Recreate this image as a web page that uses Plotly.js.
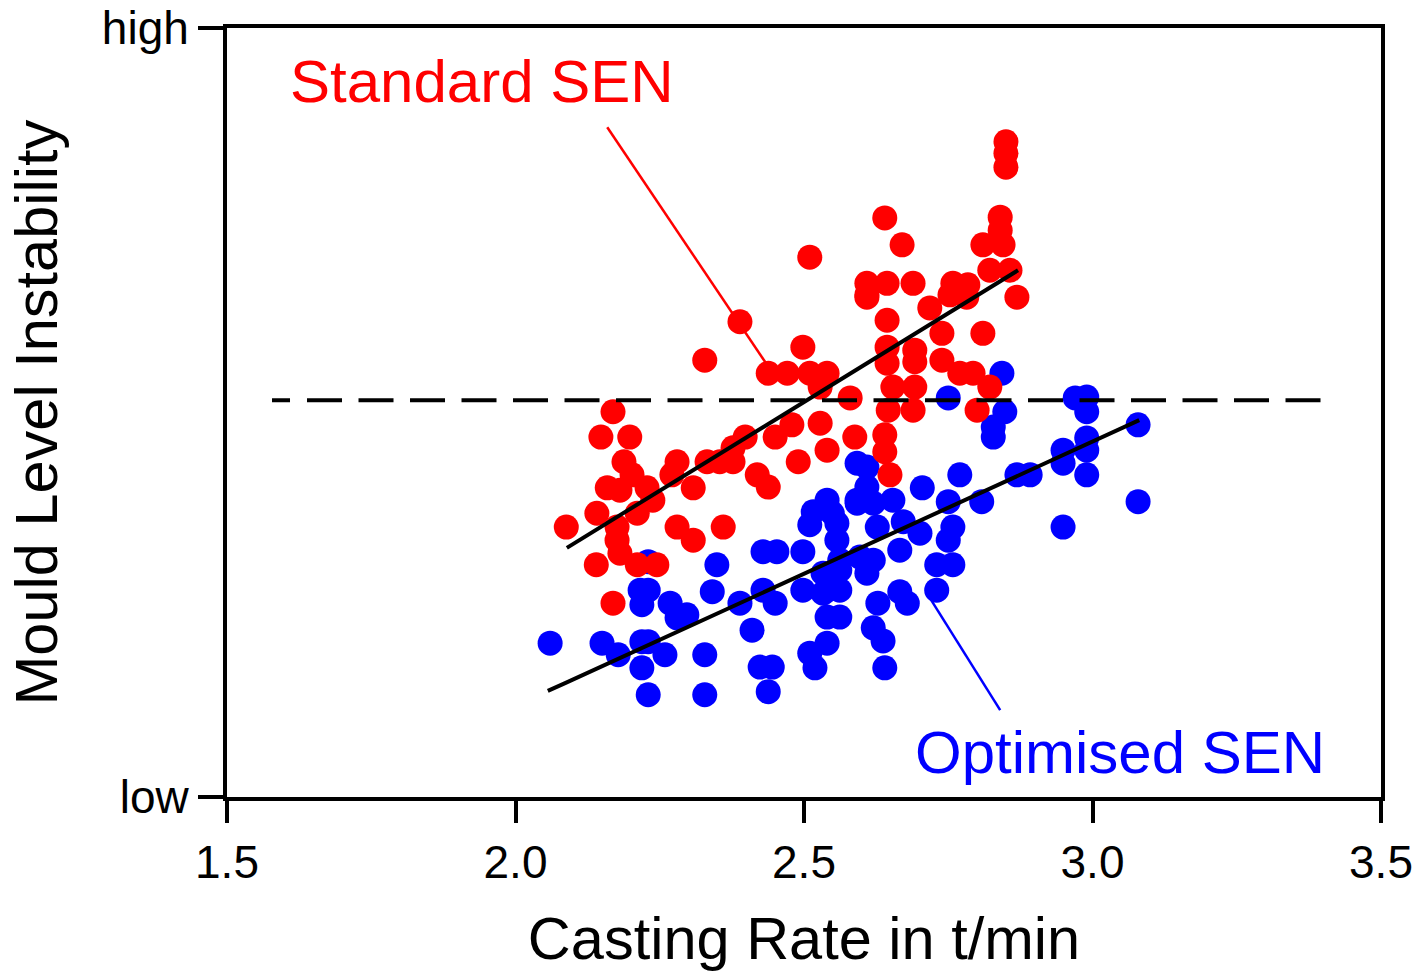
<!DOCTYPE html>
<html>
<head>
<meta charset="utf-8">
<script src="https://cdn.plot.ly/plotly-3.0.1.min.js"></script>
<style>
html,body{margin:0;padding:0;background:#fff;}
#chart{width:1427px;height:972px;}
</style>
</head>
<body>
<div id="chart"></div>
<script>
// Casting rate (t/min) and mould level instability (0 = low, 10 = high)
const standardX = [2.088,2.140,2.169,2.148,2.198,2.188,2.202,2.159,2.181,2.228,2.238,2.211,2.141,2.176,2.176,2.181,2.211,2.245,2.169,
  2.280,2.271,2.308,2.280,2.308,2.360,2.332,2.354,2.377,2.398,2.389,2.328,2.498,2.438,2.471,2.510,2.540,2.528,2.580,2.479,2.528,
  2.450,2.588,2.540,2.490,2.377,2.419,2.438,2.609,2.644,2.644,2.644,2.654,2.646,2.640,2.640,2.649,2.850,2.850,2.850,2.640,2.670,
  2.840,2.840,2.810,2.845,2.822,2.857,2.869,2.609,2.644,2.689,2.609,2.758,2.784,2.753,2.782,2.718,2.739,2.810,2.692,2.692,2.739,
  2.770,2.793,2.822,2.692,2.689,2.800,2.510];
const standardY = [3.51,3.02,5.01,4.68,4.68,4.36,4.19,4.02,3.99,4.02,3.86,3.69,3.69,3.51,3.34,3.17,3.02,3.02,2.52,
  4.36,4.19,4.02,3.51,3.34,3.51,4.36,4.36,4.36,4.68,6.18,5.68,5.85,5.51,5.51,5.51,5.51,5.33,5.19,4.84,4.86,
  4.68,4.68,4.51,4.36,4.54,4.19,4.03,6.50,6.20,5.85,5.64,5.33,5.03,4.71,4.49,4.19,8.52,8.37,8.19,7.53,7.18,
  7.54,7.37,7.18,7.18,6.85,6.85,6.50,6.68,6.68,6.68,6.53,6.68,6.66,6.53,6.50,6.36,6.03,6.03,5.81,5.66,5.68,
  5.51,5.51,5.33,5.33,5.03,5.03,7.02];

const optimisedX = [2.060,2.150,2.178,2.219,2.230,2.219,2.259,2.230,2.328,2.328,2.216,2.230,2.219,2.268,2.297,2.280,2.349,2.341,2.230,
  2.429,2.453,2.498,2.429,2.389,2.450,2.410,2.424,2.445,2.438,2.498,2.540,2.516,2.510,2.549,2.557,2.592,2.609,2.609,2.592,2.620,
  2.654,2.627,2.672,2.666,2.609,2.562,2.540,2.562,2.540,2.562,2.628,2.620,2.637,2.640,2.666,2.679,2.540,2.510,2.519,2.705,
  2.843,2.750,2.990,2.970,2.848,2.828,2.828,2.990,2.990,2.990,2.949,2.949,2.990,3.079,3.079,2.949,2.869,2.892,2.770,2.750,2.808,
  2.758,2.750,2.701,2.730,2.758,2.730,2.557,2.592,2.597,2.620,2.533,2.533,2.562];
const optimisedY = [2.00,2.00,1.85,2.02,2.02,1.68,1.85,1.33,1.85,1.33,2.69,2.69,2.50,2.52,2.37,2.33,3.02,2.67,3.06,
  3.19,3.19,3.19,2.69,2.52,2.52,2.17,1.69,1.69,1.37,2.69,3.86,3.71,3.54,3.69,3.34,4.34,4.29,4.03,3.82,3.82,
  3.86,3.51,3.58,3.21,2.91,2.95,2.69,2.69,2.34,2.34,2.52,2.20,2.03,1.68,2.67,2.52,2.00,1.87,1.68,4.02,
  5.51,5.19,5.20,5.19,5.01,4.81,4.68,5.01,4.67,4.51,4.51,4.34,4.19,4.84,3.84,3.51,4.19,4.19,4.19,3.84,3.84,
  3.51,3.34,3.43,3.02,3.02,2.69,3.56,3.86,3.12,3.08,2.65,2.91,3.08];

// Trend lines
const standardFitX = [2.089, 2.871];
const standardFitY = [3.24, 6.85];
const optimisedFitX = [2.056, 2.086, 3.081];
const optimisedFitY = [1.38, 1.48, 4.90];

// Threshold
const thresholdX = [1.578, 3.398];
const thresholdY = [5.16, 5.16];

// Label pointers
const standardPointerX = [2.159, 2.436];
const standardPointerY = [8.71, 5.62];
const optimisedPointerX = [2.840, 2.718];
const optimisedPointerY = [1.13, 2.59];

const xTicks = [1.5, 2.0, 2.5, 3.0, 3.5];
const xTickText = ['1.5', '2.0', '2.5', '3.0', '3.5'];
const yTicks = [0, 10];
const yTickText = ['low', 'high'];

const FONT = 'Liberation Sans, Arial, sans-serif';

let dash = '18px,17px';
for (let i = 0; i < 22; i++) dash += ',35px,16.5px';

const traces = [
  {x: optimisedX, y: optimisedY, mode: 'markers', type: 'scatter', name: 'Optimised SEN',
   marker: {color: '#0000ff', size: 25, line: {width: 0}}},
  {x: standardX, y: standardY, mode: 'markers', type: 'scatter', name: 'Standard SEN',
   marker: {color: '#ff0000', size: 25, line: {width: 0}}},
  {x: standardPointerX, y: standardPointerY, mode: 'lines', type: 'scatter', line: {color: '#ff0000', width: 2.5}},
  {x: optimisedPointerX, y: optimisedPointerY, mode: 'lines', type: 'scatter', line: {color: '#0000ff', width: 2.5}},
  {x: standardFitX, y: standardFitY, mode: 'lines', type: 'scatter', line: {color: '#000', width: 4}},
  {x: optimisedFitX, y: optimisedFitY, mode: 'lines', type: 'scatter', line: {color: '#000', width: 4}},
  {x: thresholdX, y: thresholdY, mode: 'lines', type: 'scatter', line: {color: '#000', width: 4, dash: dash}}
];

const layout = {
  width: 1427, height: 972,
  margin: {l: 227, r: 46, t: 28, b: 175},
  paper_bgcolor: '#fff', plot_bgcolor: '#fff',
  showlegend: false,
  font: {family: FONT, color: '#000'},
  xaxis: {
    range: [1.5, 3.5], tickmode: 'array', tickvals: xTicks, ticktext: xTickText,
    showgrid: false, zeroline: false, showline: true, linecolor: '#000', linewidth: 4, mirror: true,
    ticks: 'outside', ticklen: 22, tickwidth: 4, tickcolor: '#000',
    tickfont: {family: FONT, size: 46, color: '#000'},
    title: {text: 'Casting Rate in t/min', font: {family: FONT, size: 59.5, color: '#000'}, standoff: 33}
  },
  yaxis: {
    range: [0, 10], tickmode: 'array', tickvals: yTicks, ticktext: yTickText,
    showgrid: false, zeroline: false, showline: true, linecolor: '#000', linewidth: 4, mirror: true,
    ticks: 'outside', ticklen: 25, tickwidth: 4, tickcolor: '#000',
    tickfont: {family: FONT, size: 46, color: '#000'},
    title: {text: 'Mould Level Instability', font: {family: FONT, size: 59.5, color: '#000'}, standoff: 26}
  },
  annotations: [
    {x: 1.605, y: 9.30, xref: 'x', yref: 'y', text: 'Standard SEN', showarrow: false,
     xanchor: 'left', yanchor: 'middle', font: {family: FONT, size: 60, color: '#ff0000'}},
    {x: 2.689, y: 0.585, xref: 'x', yref: 'y', text: 'Optimised SEN', showarrow: false,
     xanchor: 'left', yanchor: 'middle', font: {family: FONT, size: 60, color: '#0000ff'}}
  ]
};

Plotly.newPlot('chart', traces, layout, {displayModeBar: false, staticPlot: true});
</script>
</body>
</html>
